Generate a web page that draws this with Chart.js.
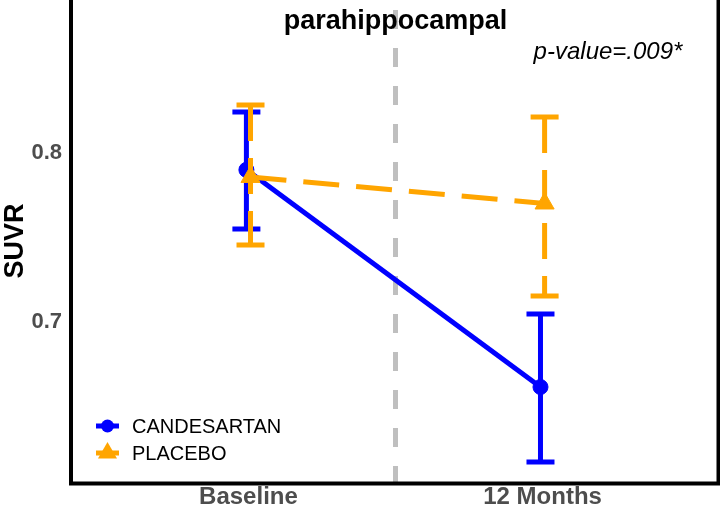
<!DOCTYPE html>
<html>
<head>
<meta charset="utf-8">
<script src="https://cdn.jsdelivr.net/npm/chart.js@4.4.1/dist/chart.umd.min.js"></script>
<style>
    html, body { margin: 0; padding: 0; background: #ffffff; }
    #wrap { width: 720px; height: 510px; position: relative; }
</style>
</head>
<body>
<div id="wrap"><canvas id="suvrChart"></canvas></div>
<script>
// Values
const CATEGORIES = ['Baseline', '12 Months'];
const TIMEPOINTS = [1, 2];
const SERIES_NAMES = ['CANDESARTAN', 'PLACEBO'];

const CAND_MEAN = [0.790, 0.6615];
const CAND_LO = [0.755, 0.6172];
const CAND_HI = [0.8243, 0.7047];

const PLAC_MEAN = [0.7858, 0.7701];
const PLAC_LO = [0.7456, 0.7154];
const PLAC_HI = [0.8284, 0.8213];

const Y_TICKS = [0.7, 0.8];
const Y_MIN = 0.6053;
const Y_MAX = 0.8905;
const X_MIN = 0.4;
const X_MAX = 2.6;
const DIVIDER_AT = 1.5;
const DODGE = 0.007;

const TITLE = 'parahippocampal';
const P_VALUE = 'p-value=.009*';

const BLUE = '#0000ff';
const ORANGE = '#ffa500';
const GREY = '#bfbfbf';
const FONT = '"Liberation Sans", Arial, Helvetica, sans-serif';

function toPoints(values, shift) {
    return TIMEPOINTS.map((t, i) => ({ x: t + shift, y: values[i] }));
}

// no extra label padding around the panel
function noPadding(scale) {
    scale.paddingTop = 0;
    scale.paddingBottom = 0;
    scale.paddingLeft = 0;
    scale.paddingRight = 0;
}

// error bars, drawn right after their own series
const errorBarPlugin = {
    id: 'errorBars',
    afterDatasetDraw(chart, args) {
        const ds = chart.data.datasets[args.index];
        if (!ds.errLo) return;
        const { ctx, scales: { x, y } } = chart;
        ctx.save();
        ctx.strokeStyle = ds.borderColor;
        ctx.lineWidth = 5;
        ctx.lineCap = 'butt';
        ds.data.forEach((p, i) => {
            const px = x.getPixelForValue(p.x);
            const top = y.getPixelForValue(ds.errHi[i]);
            const bot = y.getPixelForValue(ds.errLo[i]);
            ctx.setLineDash([]);
            ctx.beginPath();
            ctx.moveTo(px - 14, top);
            ctx.lineTo(px + 14, top);
            ctx.moveTo(px - 14, bot);
            ctx.lineTo(px + 14, bot);
            ctx.stroke();
            ctx.setLineDash(ds.borderDash || []);
            ctx.beginPath();
            ctx.moveTo(px, top);
            ctx.lineTo(px, bot);
            ctx.stroke();
        });
        ctx.restore();
    }
};

// frame, title, p-value and the legend inside the panel
const decorPlugin = {
    id: 'decor',
    afterDraw(chart) {
        const { ctx, chartArea: a, scales: { x } } = chart;
        ctx.save();

        ctx.strokeStyle = '#000000';
        ctx.lineWidth = 4;
        ctx.lineJoin = 'miter';
        ctx.beginPath();
        ctx.moveTo(a.left - 1, a.top - 10);
        ctx.lineTo(a.left - 1, a.bottom + 1.5);
        ctx.lineTo(a.right - 0.5, a.bottom + 1.5);
        ctx.lineTo(a.right - 0.5, a.top - 10);
        ctx.stroke();

        ctx.fillStyle = '#000000';
        ctx.textBaseline = 'alphabetic';
        ctx.textAlign = 'center';
        ctx.font = 'bold 27px ' + FONT;
        ctx.fillText(TITLE, x.getPixelForValue(DIVIDER_AT), 29);

        ctx.font = 'italic 24px ' + FONT;
        ctx.fillText(P_VALUE, 608, 59);

        // legend, in series order
        const items = SERIES_NAMES.map(n => chart.data.datasets.find(d => d.label === n));
        ctx.textAlign = 'left';
        ctx.textBaseline = 'middle';
        ctx.font = '20px ' + FONT;
        items.forEach((d, i) => {
            const cx = 107.5;
            const cy = 426 + i * 27;
            ctx.strokeStyle = d.borderColor;
            ctx.fillStyle = d.borderColor;
            ctx.lineWidth = 5;
            ctx.setLineDash([]);
            ctx.beginPath();
            ctx.moveTo(cx - 11.5, cy);
            ctx.lineTo(cx + 11.5, cy);
            ctx.stroke();
            ctx.beginPath();
            if (d.pointStyle === 'triangle') {
                const r = 11;
                ctx.moveTo(cx, cy - r);
                ctx.lineTo(cx + r * 0.866, cy + r / 2);
                ctx.lineTo(cx - r * 0.866, cy + r / 2);
                ctx.closePath();
            } else {
                ctx.arc(cx, cy, 6.5, 0, Math.PI * 2);
            }
            ctx.fill();
            ctx.fillStyle = '#000000';
            ctx.fillText(d.label, 132, cy + 1);
        });

        ctx.restore();
    }
};

const ctx = document.getElementById('suvrChart');

new Chart(ctx, {
    type: 'line',
    data: {
        datasets: [
            {
                label: SERIES_NAMES[1],
                data: toPoints(PLAC_MEAN, DODGE),
                errLo: PLAC_LO,
                errHi: PLAC_HI,
                borderColor: ORANGE,
                backgroundColor: ORANGE,
                borderWidth: 5,
                borderDash: [36, 17],
                pointStyle: 'triangle',
                pointRadius: 11,
                pointBorderWidth: 1,
                order: 1
            },
            {
                label: SERIES_NAMES[0],
                data: toPoints(CAND_MEAN, -DODGE),
                errLo: CAND_LO,
                errHi: CAND_HI,
                borderColor: BLUE,
                backgroundColor: BLUE,
                borderWidth: 5,
                pointStyle: 'circle',
                pointRadius: 7.5,
                pointBorderWidth: 1,
                order: 2
            },
            {
                label: 'divider',
                data: [{ x: DIVIDER_AT, y: Y_MAX }, { x: DIVIDER_AT, y: Y_MIN }],
                borderColor: GREY,
                borderWidth: 5,
                borderDash: [19, 19],
                borderDashOffset: 28,
                pointRadius: 0,
                order: 3
            }
        ]
    },
    options: {
        responsive: true,
        maintainAspectRatio: false,
        animation: false,
        events: [],
        layout: { autoPadding: false, padding: { left: 0, right: 1, top: 0, bottom: 0 } },
        plugins: {
            legend: { display: false },
            tooltip: { enabled: false },
            title: { display: false }
        },
        scales: {
            x: {
                type: 'linear',
                min: X_MIN,
                max: X_MAX,
                grid: { display: false, drawTicks: false },
                border: { display: false },
                afterBuildTicks: (scale) => {
                    scale.ticks = TIMEPOINTS.map(v => ({ value: v }));
                },
                afterFit: (scale) => {
                    scale.height = 28;
                    noPadding(scale);
                },
                ticks: {
                    autoSkip: false,
                    maxRotation: 0,
                    padding: 0,
                    color: '#4d4d4d',
                    font: { family: FONT, size: 24, weight: 'bold', lineHeight: 1.25 },
                    callback: (value) => CATEGORIES[TIMEPOINTS.indexOf(value)]
                }
            },
            y: {
                min: Y_MIN,
                max: Y_MAX,
                grid: { display: false, drawTicks: false },
                border: { display: false },
                afterBuildTicks: (scale) => {
                    scale.ticks = Y_TICKS.map(v => ({ value: v }));
                },
                afterFit: (scale) => {
                    scale.width = 72;
                    noPadding(scale);
                },
                ticks: {
                    padding: 10,
                    color: '#4d4d4d',
                    font: { family: FONT, size: 22, weight: 'bold' },
                    callback: (value) => value.toFixed(1)
                },
                title: {
                    display: true,
                    text: 'SUVR',
                    color: '#000000',
                    padding: { top: 5, bottom: 0 },
                    font: { family: FONT, size: 27, weight: 'bold', lineHeight: 0.75 }
                }
            }
        }
    },
    plugins: [errorBarPlugin, decorPlugin]
});
</script>
</body>
</html>
